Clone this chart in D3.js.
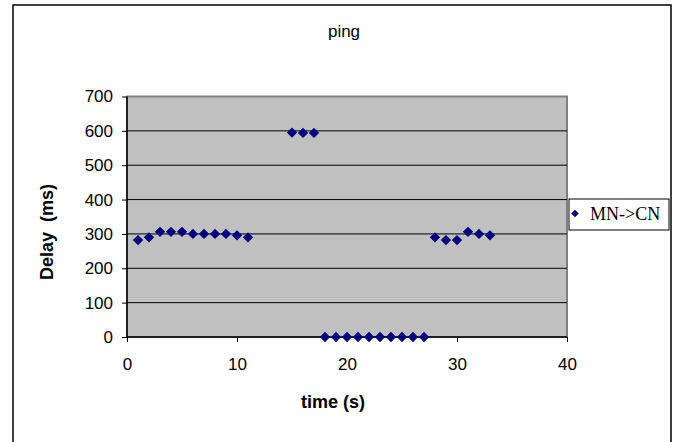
<!DOCTYPE html>
<html>
<head>
<meta charset="utf-8">
<script src="https://cdn.jsdelivr.net/npm/d3@7"></script>
<style>
  body { margin: 0; background: #fff; }
  svg { display: block; }
</style>
</head>
<body>
<svg id="chart" width="678" height="442"></svg>
<script>
// ping delay samples
const timeSec = [1, 2, 3, 4, 5, 6, 7, 8, 9, 10, 11,
                 15, 16, 17,
                 18, 19, 20, 21, 22, 23, 24, 25, 26, 27,
                 28, 29, 30, 31, 32, 33];
const delayMs = [282, 290, 306, 306, 306, 300, 300, 300, 300, 296, 290,
                 595, 594, 594,
                 0, 0, 0, 0, 0, 0, 0, 0, 0, 0,
                 290, 282, 282, 306, 300, 296];
const xTicks = [0, 10, 20, 30, 40];
const yTicks = [0, 100, 200, 300, 400, 500, 600, 700];
const seriesName = "MN->CN";

const svg = d3.select("#chart");
const plotL = 127, plotR = 567, plotT = 96.5, plotB = 337;

const x = d3.scaleLinear().domain([0, 40]).range([plotL, plotR]);
const y = d3.scaleLinear().domain([0, 700]).range([plotB, plotT]);

// outer chart frame (bottom edge falls outside the picture)
svg.append("rect")
    .attr("x", 13).attr("y", 5)
    .attr("width", 658).attr("height", 460)
    .attr("fill", "#fff")
    .attr("stroke", "#000")
    .attr("stroke-width", 1.5);

// plot area
svg.append("rect")
    .attr("x", plotL).attr("y", plotT)
    .attr("width", plotR - plotL).attr("height", plotB - plotT)
    .attr("fill", "#c0c0c0")
    .attr("stroke", "#808080")
    .attr("stroke-width", 2);

// gridlines
svg.append("g")
  .selectAll("line")
  .data(yTicks.filter(d => d > 0 && d < 700))
  .join("line")
    .attr("x1", plotL).attr("x2", plotR)
    .attr("y1", d => y(d)).attr("y2", d => y(d))
    .attr("stroke", "#000")
    .attr("stroke-width", 1);

const font = "Arial, 'Liberation Sans', sans-serif";

// y axis
const yAxis = svg.append("g")
    .attr("transform", `translate(${plotL},0)`)
    .call(d3.axisLeft(y).tickValues(yTicks).tickSize(5).tickPadding(9).tickFormat(d3.format("d")));
yAxis.select(".domain").remove();
yAxis.selectAll(".tick line").attr("stroke", "#000");
yAxis.selectAll("text").attr("font-family", font).attr("font-size", 17).attr("fill", "#000");
svg.append("line")
    .attr("x1", plotL).attr("x2", plotL)
    .attr("y1", plotT).attr("y2", plotB)
    .attr("stroke", "#000").attr("stroke-width", 1.5);

// x axis
const xAxis = svg.append("g")
    .attr("transform", `translate(0,${plotB})`)
    .call(d3.axisBottom(x).tickValues(xTicks).tickSize(5).tickPadding(16));
xAxis.select(".domain").remove();
xAxis.selectAll(".tick line").attr("stroke", "#000");
xAxis.selectAll("text").attr("font-family", font).attr("font-size", 17).attr("fill", "#000");
svg.append("line")
    .attr("x1", plotL).attr("x2", plotR)
    .attr("y1", plotB).attr("y2", plotB)
    .attr("stroke", "#000").attr("stroke-width", 1.5);

// points
const points = timeSec.map((t, i) => ({t: t, v: delayMs[i]}));
const diamond = d3.symbol().type(d3.symbolDiamond2).size(68);
svg.append("g")
    .attr("fill", "#000080")
  .selectAll("path")
  .data(points)
  .join("path")
    .attr("transform", d => `translate(${x(d.t)},${y(d.v)})`)
    .attr("d", diamond);

// title and axis titles
svg.append("text")
    .attr("x", 344).attr("y", 37)
    .attr("text-anchor", "middle")
    .attr("font-family", font).attr("font-size", 17)
    .text("ping");

svg.append("text")
    .attr("x", 333).attr("y", 408)
    .attr("text-anchor", "middle")
    .attr("font-family", font).attr("font-size", 18)
    .attr("font-weight", "bold")
    .text("time (s)");

svg.append("text")
    .attr("transform", "translate(53,232) rotate(-90)")
    .attr("text-anchor", "middle")
    .attr("font-family", font).attr("font-size", 18)
    .attr("font-weight", "bold")
    .attr("xml:space", "preserve")
    .style("white-space", "pre")
    .text("Delay  (ms)");

// legend
const legend = svg.append("g").attr("transform", "translate(569,199)");
legend.append("rect")
    .attr("width", 100).attr("height", 31)
    .attr("fill", "#fff")
    .attr("stroke", "#000")
    .attr("stroke-width", 1);
legend.append("path")
    .attr("transform", "translate(6,14.5)")
    .attr("d", d3.symbol().type(d3.symbolDiamond2).size(36))
    .attr("fill", "#000080");
legend.append("text")
    .attr("x", 21).attr("y", 21)
    .attr("font-family", "'Times New Roman', 'Liberation Serif', serif")
    .attr("font-size", 18)
    .text(seriesName);
</script>
</body>
</html>
